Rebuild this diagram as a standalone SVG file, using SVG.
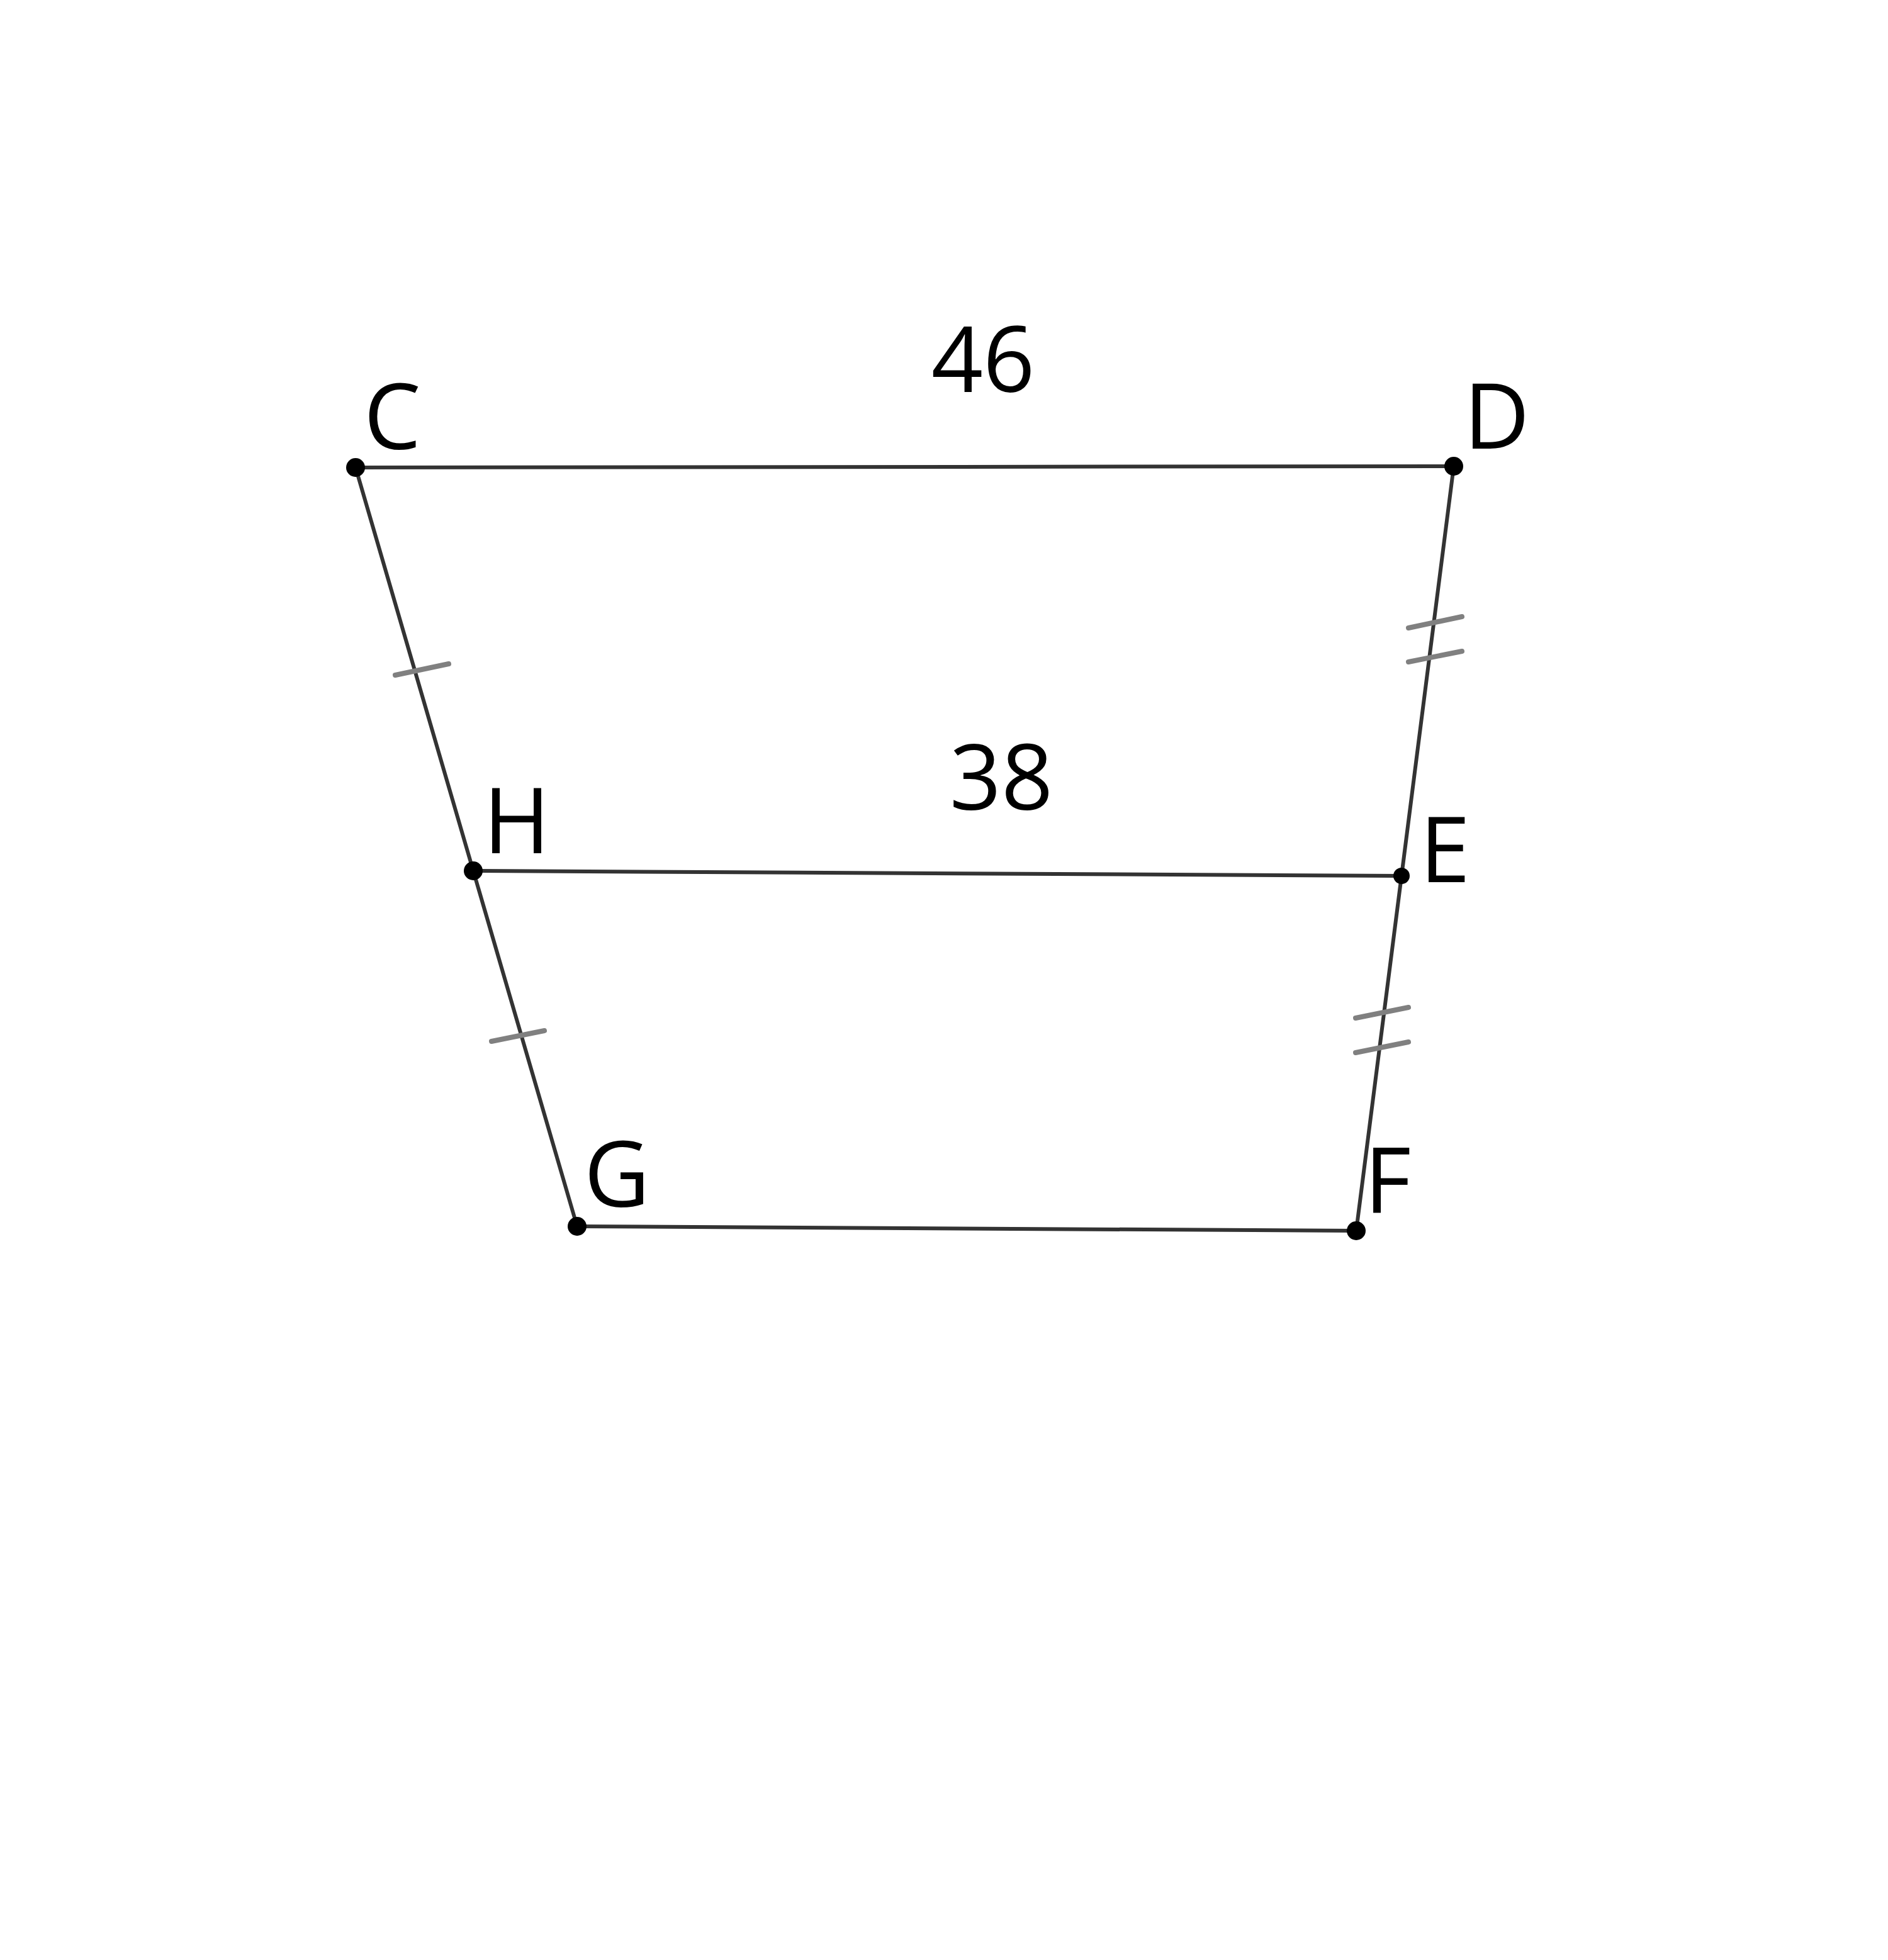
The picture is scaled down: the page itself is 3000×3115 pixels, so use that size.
<svg xmlns="http://www.w3.org/2000/svg" width="3000" height="3115" viewBox="0 0 3000 3115">
<style>
.seg{stroke:#333333;stroke-width:6;fill:none;stroke-linecap:round}
.tick{stroke:#808080;stroke-width:8;stroke-linecap:round;fill:none}
.pt{fill:#000000}
.lbl{font-family:"Open Sans","Noto Sans","DejaVu Sans",sans-serif;font-size:144px;fill:#000000}
</style>
<rect width="3000" height="3115" fill="#ffffff"/>
<g id="connectors">
<line class="seg" x1="565" y1="743" x2="2310" y2="741"/>
<line class="seg" x1="2310" y1="741" x2="2227" y2="1392"/>
<line class="seg" x1="2227" y1="1392" x2="2155" y2="1956"/>
<line class="seg" x1="2155" y1="1956" x2="917" y2="1949"/>
<line class="seg" x1="917" y1="1949" x2="752" y2="1384"/>
<line class="seg" x1="752" y1="1384" x2="565" y2="743"/>
<line class="seg" x1="752" y1="1384" x2="2227" y2="1392"/>
</g>
<g id="ticks">
<line class="tick" x1="628" y1="1073" x2="713" y2="1055"/>
<line class="tick" x1="781" y1="1655" x2="865" y2="1638"/>
<line class="tick" x1="2238" y1="998" x2="2323" y2="980"/>
<line class="tick" x1="2238" y1="1052" x2="2323" y2="1035"/>
<line class="tick" x1="2154" y1="1618" x2="2238" y2="1601"/>
<line class="tick" x1="2154" y1="1673" x2="2238" y2="1656"/>
</g>
<g id="C"><circle class="pt" cx="565" cy="743" r="15"/><text class="lbl" x="578" y="714">C</text></g>
<g id="D"><circle class="pt" cx="2310" cy="741" r="15"/><text class="lbl" x="2326" y="713">D</text></g>
<g id="H"><circle class="pt" cx="752" cy="1384" r="15"/><text class="lbl" x="768" y="1356">H</text></g>
<g id="E"><circle class="pt" cx="2227" cy="1392" r="13"/><text class="lbl" x="2256" y="1402">E</text></g>
<g id="G"><circle class="pt" cx="917" cy="1949" r="15"/><text class="lbl" x="928" y="1918">G</text></g>
<g id="F"><circle class="pt" cx="2155" cy="1956" r="15"/><text class="lbl" x="2168" y="1927">F</text></g>
<g id="label46"><text class="lbl" x="1562" y="623" text-anchor="middle">46</text></g>
<g id="label38"><text class="lbl" x="1591" y="1287" text-anchor="middle">38</text></g>
</svg>
